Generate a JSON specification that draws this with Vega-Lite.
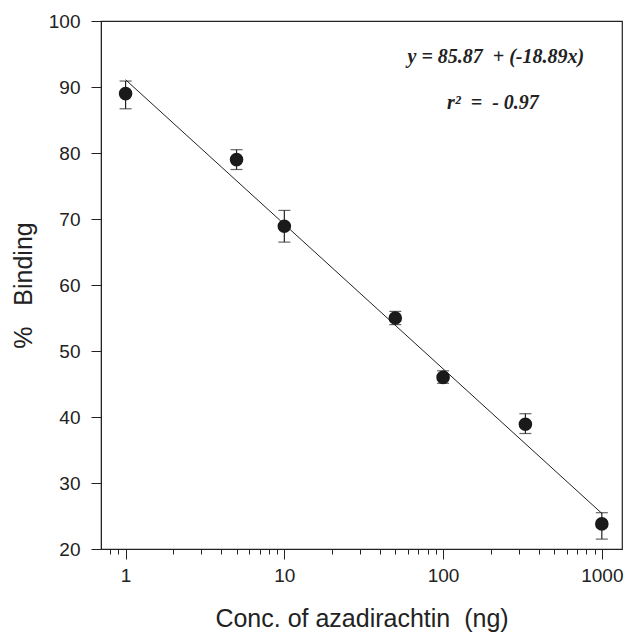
{
  "$schema": "https://vega.github.io/schema/vega-lite/v6.json",
  "width": 521,
  "height": 528,
  "autosize": {"type": "none"},
  "padding": {"left": 101, "top": 21, "right": 4, "bottom": 86},
  "background": "white",
  "config": {
    "view": {"stroke": "#222", "strokeWidth": 1.2},
    "font": "Liberation Sans",
    "axis": {"domainColor": "#222", "tickColor": "#222", "labelColor": "#222", "titleColor": "#222", "grid": false, "labelFont": "Liberation Sans", "titleFont": "Liberation Sans", "titleFontWeight": "normal"}
  },
  "datasets": {
    "pts": [
      {"conc": 1, "binding": 89.0, "lo": 86.7, "hi": 90.9},
      {"conc": 5, "binding": 79.0, "lo": 77.5, "hi": 80.5},
      {"conc": 10, "binding": 68.9, "lo": 66.5, "hi": 71.3},
      {"conc": 50, "binding": 55.0, "lo": 54.0, "hi": 56.0},
      {"conc": 100, "binding": 46.0, "lo": 45.1, "hi": 47.0},
      {"conc": 330, "binding": 38.9, "lo": 37.5, "hi": 40.5},
      {"conc": 1000, "binding": 23.8, "lo": 21.5, "hi": 25.5}
    ],
    "fit": [
      {"conc": 1, "binding": 91.1},
      {"conc": 1000, "binding": 25.4}
    ],
    "notes": [
      {"conc": 215, "binding": 94.5, "label": "y = 85.87\u00a0 + (-18.89x)"},
      {"conc": 206, "binding": 87.6, "label": "r² \u00a0=\u00a0 - 0.97"}
    ]
  },
  "encoding": {
    "x": {
      "field": "conc", "type": "quantitative",
      "scale": {"type": "log", "domain": [0.7, 1340], "nice": false},
      "axis": {
        "title": "Conc. of azadirachtin\u00a0 (ng)",
        "titleFontSize": 25, "titlePadding": 21,
        "values": [0.8, 0.9, 1, 2, 3, 4, 5, 6, 7, 8, 9, 10, 20, 30, 40, 50, 60, 70, 80, 90, 100, 200, 300, 400, 500, 600, 700, 800, 900, 1000],
        "labelExpr": "indexof([1,10,100,1000], datum.value) >= 0 ? format(datum.value, 'd') : ''",
        "tickSize": {"condition": {"test": "indexof([1,10,100,1000], datum.value) >= 0", "value": 10}, "value": 5},
        "labelFontSize": 19, "labelPadding": 7, "labelFlush": false, "labelOverlap": false
      }
    },
    "y": {
      "field": "binding", "type": "quantitative",
      "scale": {"domain": [20, 100], "nice": false, "zero": false},
      "axis": {
        "title": "%\u00a0\u00a0 Binding", "titleFontSize": 25, "titlePadding": 12,
        "values": [20, 30, 40, 50, 60, 70, 80, 90, 100],
        "tickSize": 10, "labelFontSize": 19, "labelPadding": 11
      }
    }
  },
  "layer": [
    {"data": {"name": "fit"}, "mark": {"type": "line", "color": "#222", "strokeWidth": 1}},
    {"data": {"name": "pts"}, "mark": {"type": "rule", "color": "#222", "strokeWidth": 1.2}, "encoding": {"y": {"field": "lo", "type": "quantitative"}, "y2": {"field": "hi"}}},
    {"data": {"name": "pts"}, "mark": {"type": "tick", "orient": "horizontal", "color": "#222", "size": 12, "thickness": 1.2}, "encoding": {"y": {"field": "lo", "type": "quantitative"}}},
    {"data": {"name": "pts"}, "mark": {"type": "tick", "orient": "horizontal", "color": "#222", "size": 12, "thickness": 1.2}, "encoding": {"y": {"field": "hi", "type": "quantitative"}}},
    {"data": {"name": "pts"}, "mark": {"type": "point", "filled": true, "color": "#1a1a1a", "size": 185, "opacity": 1}},
    {"data": {"name": "notes"}, "mark": {"type": "text", "font": "Liberation Serif", "fontStyle": "italic", "fontWeight": "bold", "fontSize": 20, "color": "#222", "align": "center", "baseline": "middle"}, "encoding": {"text": {"field": "label"}}}
  ]
}
